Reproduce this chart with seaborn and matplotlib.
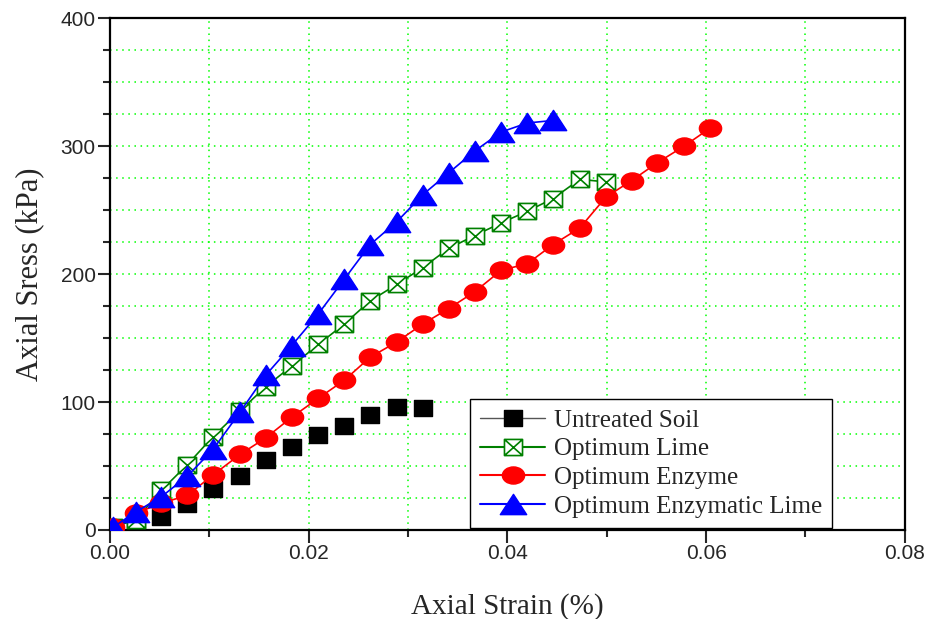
import numpy as np
import pandas as pd
import matplotlib
matplotlib.use("Agg")
import matplotlib.pyplot as plt
from matplotlib.path import Path
from matplotlib.lines import Line2D
from matplotlib.ticker import MultipleLocator, FormatStrFormatter
import seaborn as sns

# ---------------- data ----------------
strain_untreated = [0.0003, 0.0026, 0.0052, 0.0078, 0.0104, 0.0131, 0.0157, 0.0183,
                    0.0210, 0.0236, 0.0262, 0.0289, 0.0315]
stress_untreated = [1, 6.5, 10, 20, 32, 42, 55, 65, 74, 81, 90, 96, 95]

strain_lime = [0.0003, 0.0026, 0.0052, 0.0078, 0.0104, 0.0131, 0.0157, 0.0183,
               0.0210, 0.0236, 0.0262, 0.0289, 0.0315, 0.0341, 0.0367, 0.0394,
               0.0420, 0.0446, 0.0473, 0.0499]
stress_lime = [2, 8, 31, 51, 73, 93, 112, 128, 145, 161, 179, 192, 205, 220, 230, 240,
               249, 259, 274, 272]

strain_enzyme = [0.0003, 0.0026, 0.0052, 0.0078, 0.0104, 0.0131, 0.0157, 0.0183,
                 0.0210, 0.0236, 0.0262, 0.0289, 0.0315, 0.0341, 0.0367, 0.0394,
                 0.0420, 0.0446, 0.0473, 0.0499, 0.0525, 0.0551, 0.0578, 0.0604]
stress_enzyme = [2, 13, 21, 27, 43, 59, 72, 88, 103, 117, 135, 147, 161, 173, 186, 203,
                 208, 223, 236, 260, 273, 287, 300, 314]

strain_enzlime = [0.0003, 0.0026, 0.0052, 0.0078, 0.0104, 0.0131, 0.0157, 0.0183,
                  0.0210, 0.0236, 0.0262, 0.0289, 0.0315, 0.0341, 0.0367, 0.0394,
                  0.0420, 0.0446]
stress_enzlime = [2, 14, 26, 42, 63, 92, 121, 144, 169, 196, 223, 241, 262, 279, 296,
                  311, 318, 320]

labels = ["Untreated Soil", "Optimum Lime", "Optimum Enzyme", "Optimum Enzymatic Lime"]
x_ticks = [0.00, 0.02, 0.04, 0.06, 0.08]
y_ticks = [0, 100, 200, 300, 400]

# ---------------- style ----------------
sns.set_style("ticks")
plt.rcParams["font.family"] = ["Liberation Sans", "DejaVu Sans"]
serif = ["Liberation Serif", "DejaVu Serif"]

# custom (slightly wide) marker shapes
def rect_path(w, h):
    return Path([(-w, -h), (w, -h), (w, h), (-w, h), (-w, -h)],
                [Path.MOVETO, Path.LINETO, Path.LINETO, Path.LINETO, Path.CLOSEPOLY])

def boxx_path(w, h):
    v = [(-w, -h), (w, -h), (w, h), (-w, h), (-w, -h), (-w, -h), (w, h), (-w, h), (w, -h)]
    c = [Path.MOVETO, Path.LINETO, Path.LINETO, Path.LINETO, Path.CLOSEPOLY,
         Path.MOVETO, Path.LINETO, Path.MOVETO, Path.LINETO]
    return Path(v, c)

def ellipse_path(w, h):
    uc = Path.unit_circle()
    return Path(uc.vertices * np.array([w, h]), uc.codes)

def tri_path(w, h):
    return Path([(0, h), (-w, -h), (w, -h), (0, h)],
                [Path.MOVETO, Path.LINETO, Path.LINETO, Path.CLOSEPOLY])

m_square = rect_path(1.12, 1.0)
m_boxx = boxx_path(1.12, 1.0)
m_circle = ellipse_path(1.3, 1.0)
m_tri = tri_path(1.3, 1.0)

fig = plt.figure(figsize=(9.3, 6.19), dpi=100)
ax = fig.add_axes([0.118, 0.1438, 0.855, 0.827])

GREEN = "#008000"
series = [
    (strain_untreated, stress_untreated, dict(color="black", marker=m_square, markersize=13,
                                              mfc="black", mec="black", linestyle="none", mew=1)),
    (strain_lime, stress_lime, dict(color=GREEN, marker=m_boxx, markersize=13, mfc="white",
                                    mec=GREEN, linewidth=1.2, mew=1.2)),
    (strain_enzyme, stress_enzyme, dict(color="red", marker=m_circle, markersize=16,
                                        mfc="red", mec="red", linewidth=1.2, mew=1)),
    (strain_enzlime, stress_enzlime, dict(color="blue", marker=m_tri, markersize=19,
                                          mfc="blue", mec="blue", linewidth=1.2, mew=1)),
]

for (xs, ys, kw), lab in zip(series, labels):
    df = pd.DataFrame({"strain": xs, "stress": ys})
    sns.lineplot(data=df, x="strain", y="stress", ax=ax, sort=False, errorbar=None,
                 legend=False, zorder=3, **kw)

# ---------------- axes ----------------
ax.set_xlim(0, 0.08)
ax.set_ylim(0, 400)
ax.xaxis.set_major_locator(MultipleLocator(0.02))
ax.xaxis.set_minor_locator(MultipleLocator(0.01))
ax.yaxis.set_major_locator(MultipleLocator(100))
ax.yaxis.set_minor_locator(MultipleLocator(25))
ax.set_xticks(x_ticks)
ax.set_yticks(y_ticks)
ax.xaxis.set_major_formatter(FormatStrFormatter("%.2f"))
ax.tick_params(which="major", direction="out", length=9, width=1.5, labelsize=15, pad=1)
ax.tick_params(which="minor", direction="out", length=5, width=1.5)
for s in ax.spines.values():
    s.set_linewidth(1.6)
    s.set_color("black")
ax.grid(True, which="both", color="#00ff00", linestyle=(0, (1, 3)), linewidth=1.1, zorder=0)
ax.set_axisbelow(True)

ax.set_xlabel("Axial Strain (%)", fontsize=21, family=serif, labelpad=22)
ax.set_ylabel("Axial Sress (kPa)", fontsize=22, family=serif, labelpad=12)

# ---------------- legend ----------------
handles = [
    Line2D([], [], color="#555555", linewidth=1.0, marker=m_square, markersize=13,
           mfc="black", mec="black"),
    Line2D([], [], color=GREEN, linewidth=1.5, marker=m_boxx, markersize=13,
           mfc="white", mec=GREEN, mew=1.2),
    Line2D([], [], color="red", linewidth=1.5, marker=m_circle, markersize=16,
           mfc="red", mec="red"),
    Line2D([], [], color="blue", linewidth=1.5, marker=m_tri, markersize=19,
           mfc="blue", mec="blue"),
]
leg = ax.legend(handles, labels, loc="lower center", bbox_to_anchor=(0.681, 0.004),
                prop={"family": serif, "size": 18}, frameon=True, fancybox=False,
                framealpha=1, edgecolor="black", borderaxespad=0, handlelength=2.6,
                handletextpad=0.35, labelspacing=0.25, borderpad=0.4)
leg.get_frame().set_linewidth(1.0)
leg.set_zorder(5)

fig.savefig("out.png", dpi=100)
